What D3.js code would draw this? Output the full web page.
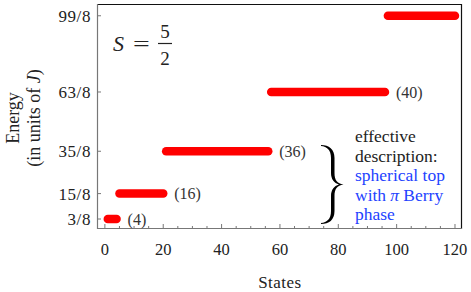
<!DOCTYPE html>
<meta charset="utf-8">
<script src="https://d3js.org/d3.v7.min.js"></script>
<style>
    body { margin: 0; background: white; }
    svg text { fill: #222; }
</style>
<div id="chart"></div>
<script>
    // energy levels: value (in units of J), label, first state, last state
    var energies = [3/8, 15/8, 35/8, 63/8, 99/8];
    var energyLabels = ["3/8", "15/8", "35/8", "63/8", "99/8"];
    var firstState = [1, 5, 21, 57, 97];
    var lastState = [4, 20, 56, 96, 120];
    var degeneracy = ["(4)", "(16)", "(36)", "(40)", ""];
    var xTicks = [0, 20, 40, 60, 80, 100, 120];

    var W = 471, H = 292;
    var margin = {top: 4, right: 9, bottom: 63, left: 97};

    var svg = d3.select("#chart").append("svg")
        .attr("width", W).attr("height", H)
        .attr("font-family", "'Liberation Serif', 'Times New Roman', serif");

    var x = d3.scaleLinear().domain([-2.7, 122.4]).range([margin.left, W - margin.right]);
    var y = d3.scaleLinear().domain([-0.215, 13.07]).range([H - margin.bottom, margin.top]);

    var x0 = x.range()[0], x1 = x.range()[1], y0 = y.range()[0], y1 = y.range()[1];

    // minor + major ticks on bottom (inward)
    var minor = d3.range(0, 121, 5);
    svg.append("g").selectAll("line").data(minor).enter().append("line")
        .attr("x1", function (d) { return x(d); })
        .attr("x2", function (d) { return x(d); })
        .attr("y1", y0)
        .attr("y2", function (d) { return y0 - (d % 20 === 0 ? 5 : 3); })
        .attr("stroke", "#777").attr("stroke-width", 1);

    svg.append("g").selectAll("text").data(xTicks).enter().append("text")
        .attr("x", function (d) { return x(d); })
        .attr("y", 255)
        .attr("text-anchor", "middle")
        .style("font-size", "16.5px")
        .text(function (d) { return d; });

    // left ticks (inward)
    svg.append("g").selectAll("line").data(energies).enter().append("line")
        .attr("x1", x0).attr("x2", x0 + 4)
        .attr("y1", function (d) { return y(d); })
        .attr("y2", function (d) { return y(d); })
        .attr("stroke", "#777").attr("stroke-width", 1);

    svg.append("g").selectAll("text").data(energies).enter().append("text")
        .attr("x", x0 - 6)
        .attr("y", function (d) { return y(d); })
        .attr("dy", "0.35em")
        .attr("text-anchor", "end")
        .style("font-size", "17px")
        .style("letter-spacing", "0.6px")
        .text(function (d, i) { return energyLabels[i]; });

    // frame
    svg.append("line").attr("x1", x0).attr("x2", x1).attr("y1", y1 + 0.5).attr("y2", y1 + 0.5)
        .attr("stroke", "#111").attr("stroke-width", 1.2);
    svg.append("line").attr("x1", x1 - 0.5).attr("x2", x1 - 0.5).attr("y1", y1).attr("y2", y0)
        .attr("stroke", "#111").attr("stroke-width", 1.2);
    svg.append("line").attr("x1", x0 + 0.5).attr("x2", x0 + 0.5).attr("y1", y1).attr("y2", y0)
        .attr("stroke", "#777").attr("stroke-width", 1.2);
    svg.append("line").attr("x1", x0).attr("x2", x1).attr("y1", y0 - 0.5).attr("y2", y0 - 0.5)
        .attr("stroke", "#777").attr("stroke-width", 1.2);

    // levels
    svg.append("g").selectAll("line").data(energies).enter().append("line")
        .attr("x1", function (d, i) { return x(firstState[i]); })
        .attr("x2", function (d, i) { return x(lastState[i]); })
        .attr("y1", function (d) { return y(d); })
        .attr("y2", function (d) { return y(d); })
        .attr("stroke", "#ff0000")
        .attr("stroke-width", 8.5)
        .attr("stroke-linecap", "round");

    svg.append("g").selectAll("text").data(energies).enter().append("text")
        .attr("x", function (d, i) { return x(lastState[i]) + 11; })
        .attr("y", function (d) { return y(d); })
        .attr("dy", "0.35em")
        .style("font-size", "16px")
        .style("fill", "#333")
        .text(function (d, i) { return degeneracy[i]; });

    // axis titles
    svg.append("text")
        .attr("x", x((xTicks[0] + xTicks[xTicks.length - 1]) / 2))
        .attr("y", 288)
        .attr("text-anchor", "middle")
        .style("font-size", "17px")
        .style("letter-spacing", "0.5px")
        .text("States");

    var yl = svg.append("text")
        .attr("transform", "translate(19,118) rotate(-90)")
        .attr("text-anchor", "middle")
        .style("font-size", "18px");
    yl.append("tspan").attr("x", 0).attr("y", 0).text("Energy");
    var t2 = yl.append("tspan").attr("x", 0).attr("y", 21).text("(in units of ");
    t2.append("tspan").style("font-style", "italic").text("J");
    t2.append("tspan").text(")");

    // S = 5/2
    var sg = svg.append("g").style("font-size", "22px");
    sg.append("text").attr("x", 113).attr("y", 51).style("font-style", "italic").text("S");
    sg.append("text").attr("x", 133).attr("y", 51)
        .attr("transform", "translate(133,0) scale(1.35,1) translate(-133,0)").text("=");
    sg.append("text").attr("x", 165).attr("y", 38).attr("text-anchor", "middle").style("font-size", "19px").text("5");
    sg.append("text").attr("x", 165).attr("y", 65).attr("text-anchor", "middle").style("font-size", "19px").text("2");
    svg.append("line").attr("x1", 158).attr("x2", 172).attr("y1", 43.5).attr("y2", 43.5)
        .attr("stroke", "#222").attr("stroke-width", 1.2);

    // brace (filled, thick in the arms, thin at the ends)
    svg.append("path")
        .attr("d",
            "M321,145 C329,145 334.5,149 334.5,158 L334.5,173 C334.5,180 337,183.5 343.5,184.5 " +
            "C337,185.5 334.5,189 334.5,196 L334.5,211 C334.5,220 329,224 321,224 " +
            "L321,223 C327,222.5 331,219 331,211 L331,196 C331,190 334,186 339,184.5 " +
            "C334,183 331,179 331,173 L331,158 C331,150 327,146.5 321,146 Z")
        .attr("fill", "#000");

    // annotation
    var notes = ["effective", "description:", "spherical top", "with", "phase"];
    var noteColors = ["#222", "#222", "#2342ff", "#2342ff", "#2342ff"];
    var ann = svg.append("g").selectAll("text").data(notes).enter().append("text")
        .attr("x", 355)
        .attr("y", function (d, i) { return 142 + i * 19.6; })
        .style("font-size", "17.5px")
        .style("fill", function (d, i) { return noteColors[i]; })
        .text(function (d) { return d; });
    ann.filter(function (d) { return d === "with"; })
        .call(function (t) {
            t.append("tspan").attr("dx", 4).style("font-style", "italic").text("\u03c0");
            t.append("tspan").text(" Berry");
        });
</script>
